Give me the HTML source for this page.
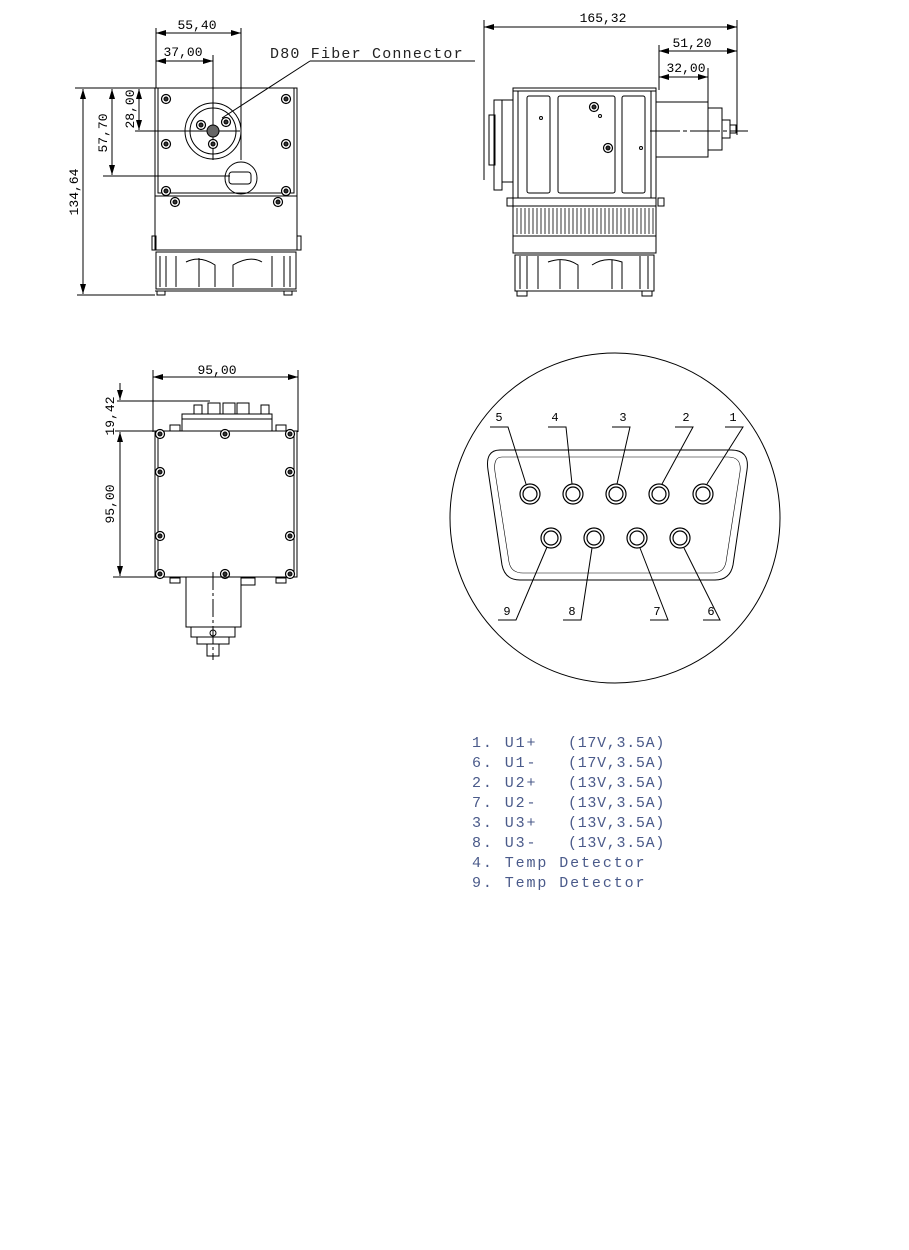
<!DOCTYPE html>
<html><head><meta charset="utf-8"><style>
html,body{margin:0;padding:0;background:#fff}
svg{display:block}
text{font-family:"Liberation Mono",monospace}
</style></head><body>
<svg width="909" height="1250" viewBox="0 0 909 1250" xmlns="http://www.w3.org/2000/svg">
<defs>
<marker id="a" markerWidth="10" markerHeight="6" refX="10" refY="3" orient="auto-start-reverse" markerUnits="userSpaceOnUse"><path d="M0,0L10,3L0,6z" fill="#000"/></marker>
<g id="scr"><circle r="4.5" fill="#fff" stroke="#000" stroke-width="1.2"/><circle r="2" fill="#333"/></g>
</defs>
<g stroke="#000" fill="none" stroke-width="1">
<line x1="156" y1="28" x2="156" y2="88"/><line x1="241" y1="28" x2="241" y2="160"/>
<line x1="156" y1="33" x2="241" y2="33" marker-start="url(#a)" marker-end="url(#a)"/>
<line x1="213" y1="55" x2="213" y2="160"/>
<line x1="156" y1="61" x2="213" y2="61" marker-start="url(#a)" marker-end="url(#a)"/>
<line x1="75" y1="88" x2="155" y2="88"/><line x1="77" y1="295" x2="155" y2="295"/>
<line x1="83" y1="89" x2="83" y2="294" marker-start="url(#a)" marker-end="url(#a)"/>
<line x1="112" y1="89" x2="112" y2="175" marker-start="url(#a)" marker-end="url(#a)"/>
<line x1="139" y1="89" x2="139" y2="130" marker-start="url(#a)" marker-end="url(#a)"/>
<line x1="135" y1="131" x2="240" y2="131"/><line x1="103" y1="176" x2="230" y2="176"/>
<line x1="222" y1="118" x2="310" y2="61"/><line x1="310" y1="61" x2="475" y2="61"/>
<rect x="155" y="88" width="142" height="108"/>
<rect x="158" y="88" width="136" height="105"/>
<circle cx="213" cy="131" r="28"/><circle cx="213" cy="131" r="23"/>
<circle cx="213" cy="131" r="6" fill="#666"/>
<use href="#scr" x="201" y="125"/><use href="#scr" x="226" y="122"/><use href="#scr" x="213" y="144"/>
<circle cx="241" cy="178" r="16"/><rect x="229" y="172" width="22" height="12" rx="3"/>
<use href="#scr" x="166" y="99"/><use href="#scr" x="286" y="99"/><use href="#scr" x="166" y="144"/><use href="#scr" x="286" y="144"/><use href="#scr" x="166" y="191"/><use href="#scr" x="286" y="191"/>
<use href="#scr" x="175" y="202"/><use href="#scr" x="278" y="202"/>
<path d="M155,196 L155,250 L297,250 L297,196"/>
<rect x="152" y="236" width="4" height="14"/><rect x="297" y="236" width="4" height="14"/>
<rect x="156" y="252" width="140" height="37"/>
<path d="M160,256 V287 M166,256 V287 M176,256 V287 M186,262 Q200,255 215,265 V287 M199,258 V287 M290,256 V287 M284,256 V287 M272,256 V287 M262,262 Q250,255 233,265 V287"/>
<line x1="155" y1="291" x2="297" y2="291"/>
<rect x="157" y="291" width="8" height="4"/><rect x="284" y="291" width="8" height="4"/>
<line x1="484" y1="20" x2="484" y2="180"/><line x1="737" y1="20" x2="737" y2="135"/>
<line x1="484" y1="27" x2="737" y2="27" marker-start="url(#a)" marker-end="url(#a)"/>
<line x1="659" y1="45" x2="659" y2="90"/>
<line x1="659" y1="51" x2="737" y2="51" marker-start="url(#a)" marker-end="url(#a)"/>
<line x1="708" y1="68" x2="708" y2="103"/>
<line x1="659" y1="77" x2="708" y2="77" marker-start="url(#a)" marker-end="url(#a)"/>
<rect x="513" y="88" width="143" height="110"/>
<line x1="518" y1="91" x2="518" y2="198"/><line x1="651" y1="91" x2="651" y2="198"/>
<line x1="513" y1="91" x2="656" y2="91"/>
<rect x="527" y="96" width="23" height="97" rx="2"/><rect x="558" y="96" width="57" height="97" rx="2"/><rect x="622" y="96" width="23" height="97" rx="2"/>
<circle cx="541" cy="118" r="1.5"/><circle cx="600" cy="116" r="1.5"/><circle cx="641" cy="148" r="1.5"/>
<use href="#scr" x="594" y="107"/><use href="#scr" x="608" y="148"/>
<rect x="656" y="102" width="52" height="55"/>
<rect x="708" y="108" width="14" height="42"/>
<rect x="722" y="120" width="8" height="18"/><rect x="730" y="125" width="6" height="8"/>
<line x1="650" y1="131" x2="748" y2="131" stroke-dasharray="30,3,4,3"/>
<rect x="494" y="100" width="8" height="90"/><rect x="502" y="100" width="11" height="82"/>
<rect x="489" y="115" width="6" height="50"/>
<rect x="507" y="198" width="6" height="8"/><rect x="658" y="198" width="6" height="8"/>
<rect x="513" y="198" width="143" height="8"/>
<rect x="513" y="206" width="143" height="30"/>
<path d="M517,208V234M521,208V234M525,208V234M529,208V234M533,208V234M537,208V234M541,208V234M545,208V234M549,208V234M553,208V234M557,208V234M561,208V234M565,208V234M569,208V234M573,208V234M577,208V234M581,208V234M585,208V234M589,208V234M593,208V234M597,208V234M601,208V234M605,208V234M609,208V234M613,208V234M617,208V234M621,208V234M625,208V234M629,208V234M633,208V234M637,208V234M641,208V234M645,208V234M649,208V234M653,208V234" stroke-width="0.8"/>
<rect x="513" y="236" width="143" height="17"/>
<rect x="515" y="255" width="139" height="36"/>
<path d="M520,256V289M527,256V289M538,256V289M548,262Q565,256 578,265V289M560,260V289M648,256V289M640,256V289M592,265Q605,256 622,262V289M612,260V289"/>
<rect x="517" y="291" width="10" height="5"/><rect x="642" y="291" width="10" height="5"/>
<line x1="153" y1="370" x2="153" y2="432"/><line x1="298" y1="370" x2="298" y2="432"/>
<line x1="153" y1="377" x2="298" y2="377" marker-start="url(#a)" marker-end="url(#a)"/>
<line x1="117" y1="401" x2="210" y2="401"/><line x1="115" y1="431" x2="160" y2="431"/><line x1="113" y1="577" x2="158" y2="577"/>
<line x1="120" y1="383" x2="120" y2="400" marker-end="url(#a)"/>
<line x1="120" y1="432" x2="120" y2="576" marker-start="url(#a)" marker-end="url(#a)"/>
<rect x="155" y="431" width="142" height="146"/>
<line x1="158" y1="433" x2="158" y2="575"/><line x1="294" y1="433" x2="294" y2="575"/>
<rect x="182" y="414" width="90" height="17"/><rect x="182" y="414" width="90" height="5"/>
<rect x="208" y="403" width="12" height="11"/><rect x="223" y="403" width="12" height="11"/><rect x="237" y="403" width="12" height="11"/>
<rect x="194" y="405" width="8" height="9"/><rect x="261" y="405" width="8" height="9"/>
<rect x="170" y="425" width="10" height="6"/><rect x="276" y="425" width="10" height="6"/>
<use href="#scr" x="160" y="434"/><use href="#scr" x="225" y="434"/><use href="#scr" x="290" y="434"/>
<use href="#scr" x="160" y="472"/><use href="#scr" x="290" y="472"/><use href="#scr" x="160" y="536"/><use href="#scr" x="290" y="536"/>
<use href="#scr" x="160" y="574"/><use href="#scr" x="225" y="574"/><use href="#scr" x="290" y="574"/>
<rect x="170" y="578" width="10" height="5"/><rect x="276" y="578" width="10" height="5"/>
<rect x="186" y="577" width="55" height="50"/><rect x="241" y="578" width="14" height="7"/>
<rect x="191" y="627" width="44" height="10"/><rect x="197" y="637" width="32" height="7"/>
<rect x="207" y="644" width="12" height="12"/>
<line x1="213" y1="572" x2="213" y2="660" stroke-dasharray="18,3,3,3"/>
<circle cx="213" cy="633" r="3"/>
<circle cx="615" cy="518" r="165"/>
<path d="M500,450 H731 Q750,450 747,470 L733,565 Q730,580 715,580 H520 Q505,580 502,565 L488,470 Q485,450 500,450 Z"/>
<path d="M502,457 H728 Q742,457 740,472 L726,562 Q724,573 712,573 H523 Q511,573 509,562 L495,472 Q493,457 502,457 Z" stroke-width="0.6"/>
<g stroke-width="1.2">
<circle cx="530" cy="494" r="10"/><circle cx="530" cy="494" r="7"/>
<circle cx="573" cy="494" r="10"/><circle cx="573" cy="494" r="7"/>
<circle cx="616" cy="494" r="10"/><circle cx="616" cy="494" r="7"/>
<circle cx="659" cy="494" r="10"/><circle cx="659" cy="494" r="7"/>
<circle cx="703" cy="494" r="10"/><circle cx="703" cy="494" r="7"/>
<circle cx="551" cy="538" r="10"/><circle cx="551" cy="538" r="7"/>
<circle cx="594" cy="538" r="10"/><circle cx="594" cy="538" r="7"/>
<circle cx="637" cy="538" r="10"/><circle cx="637" cy="538" r="7"/>
<circle cx="680" cy="538" r="10"/><circle cx="680" cy="538" r="7"/>
</g>
<path d="M490,427 H508 L526,484 M548,427 H566 L572,484 M612,427 H630 L617,484 M675,427 H693 L662,484 M725,427 H743 L707,484"/>
<path d="M498,620 H516 L547,547 M563,620 H581 L592,548 M650,620 H668 L640,548 M703,620 H720 L684,548"/>
</g>
<g font-size="13" fill="#000" text-anchor="middle">
<text x="197" y="29">55,40</text>
<text x="183" y="56">37,00</text>
<text x="603" y="22">165,32</text>
<text x="692" y="47">51,20</text>
<text x="686" y="72">32,00</text>
<text x="217" y="374">95,00</text>
<text transform="translate(78,192) rotate(-90)">134,64</text>
<text transform="translate(107,133) rotate(-90)">57,70</text>
<text transform="translate(134,109) rotate(-90)">28,00</text>
<text transform="translate(114,416) rotate(-90)">19,42</text>
<text transform="translate(114,504) rotate(-90)">95,00</text>
<text x="499" y="421" font-size="12">5</text><text x="555" y="421" font-size="12">4</text><text x="623" y="421" font-size="12">3</text><text x="686" y="421" font-size="12">2</text><text x="733" y="421" font-size="12">1</text>
<text x="507" y="615" font-size="12">9</text><text x="572" y="615" font-size="12">8</text><text x="657" y="615" font-size="12">7</text><text x="711" y="615" font-size="12">6</text>
</g>
<text x="270" y="58" font-size="15" fill="#222" letter-spacing="1.2">D80 Fiber Connector</text>
<g font-size="15" fill="#4a5a8a" letter-spacing="1.9">
<text x="472" y="747">1. U1+</text><text x="568" y="747" letter-spacing="0.7">(17V,3.5A)</text>
<text x="472" y="767">6. U1-</text><text x="568" y="767" letter-spacing="0.7">(17V,3.5A)</text>
<text x="472" y="787">2. U2+</text><text x="568" y="787" letter-spacing="0.7">(13V,3.5A)</text>
<text x="472" y="807">7. U2-</text><text x="568" y="807" letter-spacing="0.7">(13V,3.5A)</text>
<text x="472" y="827">3. U3+</text><text x="568" y="827" letter-spacing="0.7">(13V,3.5A)</text>
<text x="472" y="847">8. U3-</text><text x="568" y="847" letter-spacing="0.7">(13V,3.5A)</text>
<text x="472" y="867">4. Temp Detector</text>
<text x="472" y="887">9. Temp Detector</text>
</g>
</svg>
</body></html>
